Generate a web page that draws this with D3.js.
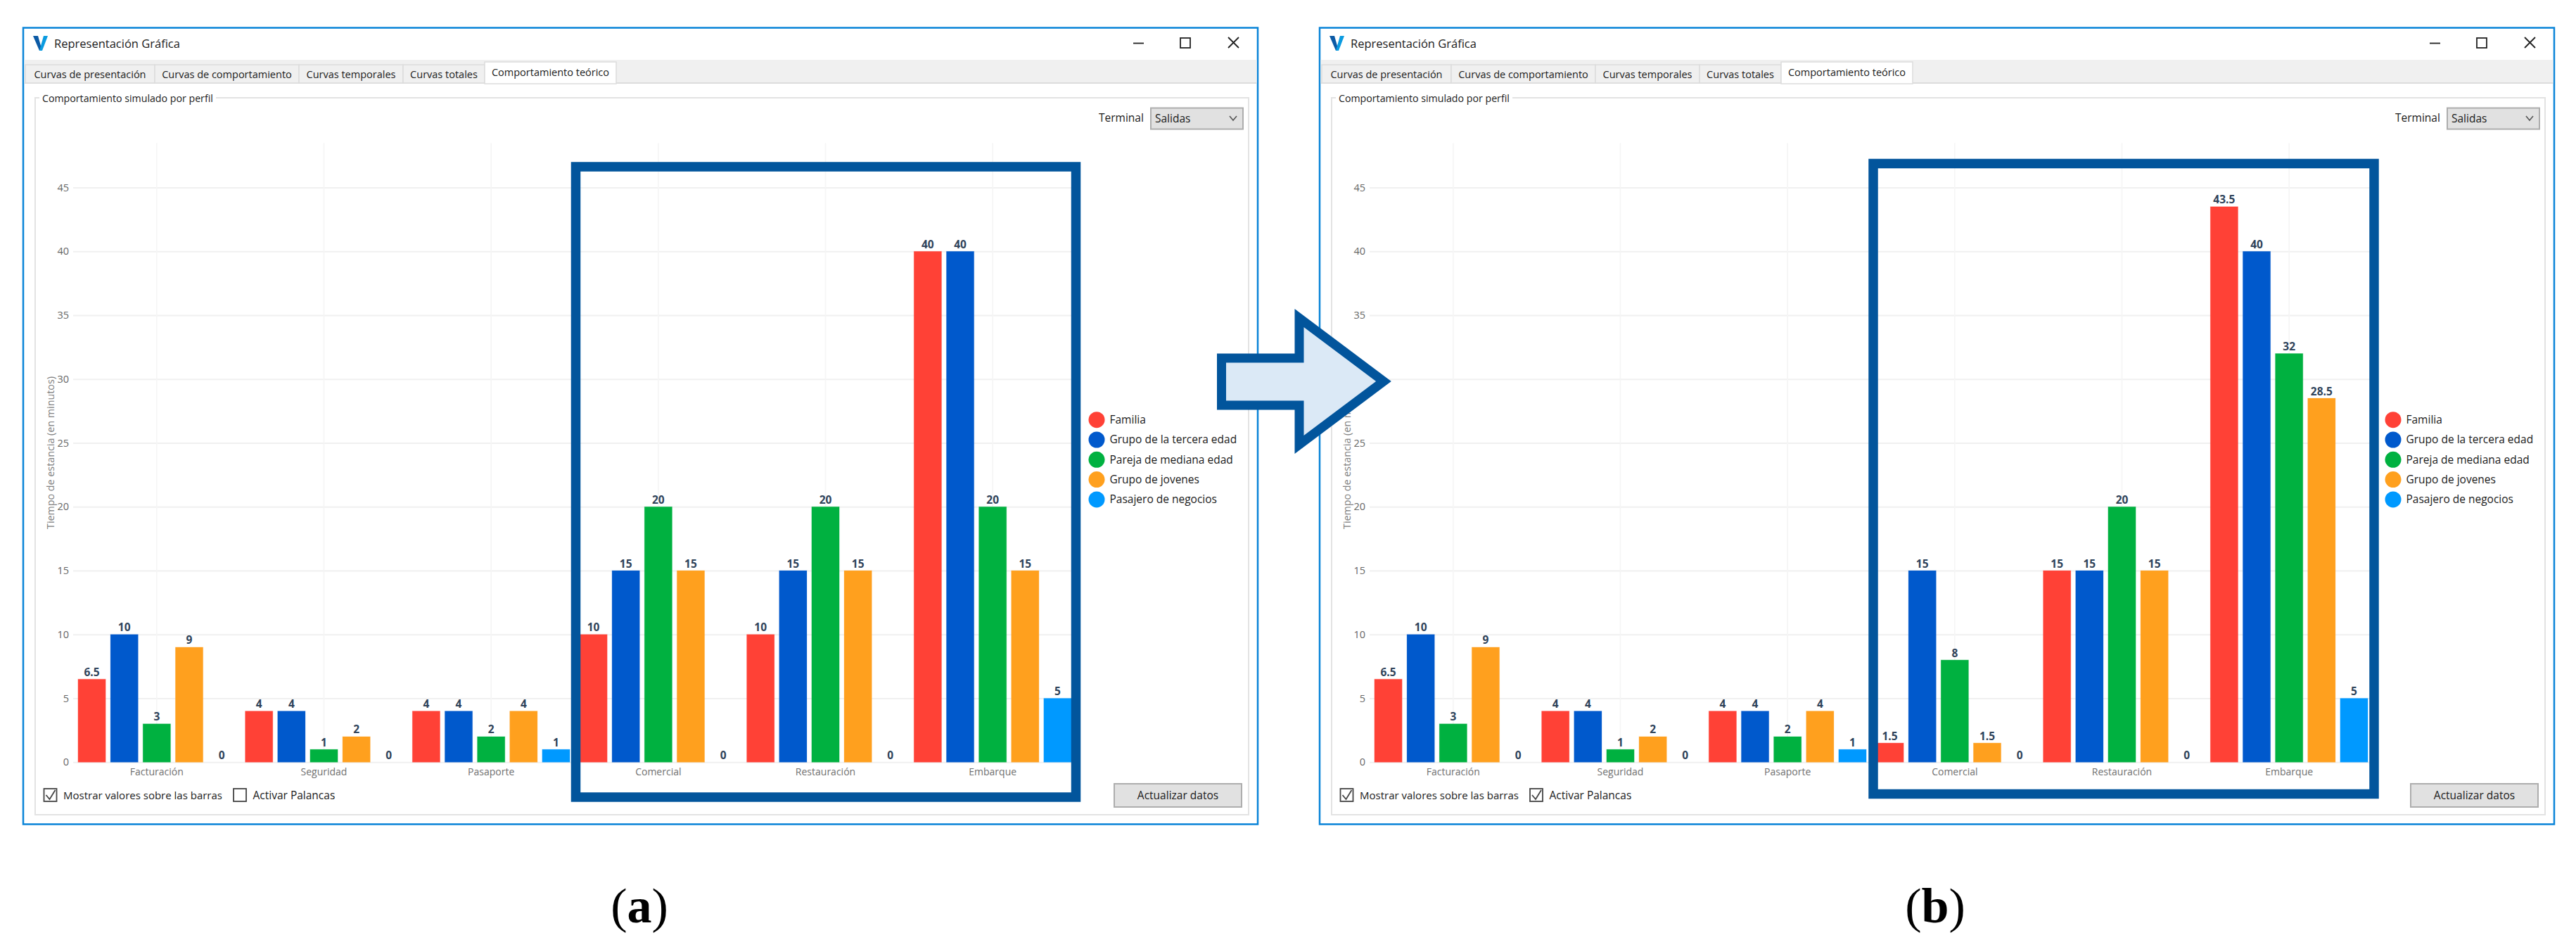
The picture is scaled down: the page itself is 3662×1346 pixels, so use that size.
<!DOCTYPE html>
<html>
<head>
  <meta charset="utf-8">
  <script src="https://d3js.org/d3.v7.min.js"></script>
  <style>
    html, body { margin: 0; padding: 0; background: #fff; }
    svg { display: block; }
    text { font-family: "Open Sans", "Noto Sans", sans-serif; }
  </style>
</head>
<body>
<script type="text/javascript">
var categories = ["Facturación", "Seguridad", "Pasaporte", "Comercial", "Restauración", "Embarque"];
var profiles = ["Familia", "Grupo de la tercera edad", "Pareja de mediana edad", "Grupo de jovenes", "Pasajero de negocios"];
var yTicks = [0, 5, 10, 15, 20, 25, 30, 35, 40, 45];

// panel (a), palancas off
var familiaA = [6.5, 4, 4, 10, 10, 40];
var terceraA = [10, 4, 4, 15, 15, 40];
var parejaA = [3, 1, 2, 20, 20, 20];
var jovenesA = [9, 2, 4, 15, 15, 15];
var negociosA = [0, 0, 1, 0, 0, 5];

// panel (b), palancas on
var familiaB = [6.5, 4, 4, 1.5, 15, 43.5];
var terceraB = [10, 4, 4, 15, 15, 40];
var parejaB = [3, 1, 2, 8, 20, 32];
var jovenesB = [9, 2, 4, 1.5, 15, 28.5];
var negociosB = [0, 0, 1, 0, 0, 5];

var colors = ["#ff4136", "#0059cc", "#00b140", "#ffa01e", "#0099ff"];
var tabNames = ["Curvas de presentación", "Curvas de comportamiento", "Curvas temporales", "Curvas totales", "Comportamiento teórico"];
var tabEdges = [36, 220, 425, 573, 689, 876];
var boxBlue = "#02559c";
var uiText = "#1a1a1a";

var svg = d3.select("body").append("svg").attr("width", 3662).attr("height", 1346);

var x0 = d3.scaleBand().domain(categories).range([104, 1530]);
var x1 = d3.scaleBand().domain(profiles).range([0, x0.bandwidth()]).padding(0.15);
var y = d3.scaleLinear().domain([0, 48.5]).range([1083.3, 203]);

function addText(g, str, px, py, size, fill, anchor) {
  return g.append("text")
    .attr("x", px).attr("y", py)
    .attr("dy", "0.35em")
    .attr("font-size", size)
    .attr("fill", fill || uiText)
    .attr("text-anchor", anchor || "start")
    .text(str);
}

function drawWindow(g) {
  g.append("rect").attr("x", 33).attr("y", 39.5).attr("width", 1755).attr("height", 1132)
    .attr("fill", "#fff").attr("stroke", "#0a84d8").attr("stroke-width", 2.5);

  // app icon
  g.append("path").attr("d", "M47,51 L54,51 L60,72 L56,72 Z").attr("fill", "#0b5aa5");
  g.append("path").attr("d", "M68,51 L62,51 L56,72 L60,72 Z").attr("fill", "#0a9be0");
  addText(g, "Representación Gráfica", 77, 62.5, 16.5);

  // window buttons
  g.append("path").attr("d", "M1611,61.5 H1626").attr("stroke", "#222").attr("stroke-width", 1.8);
  g.append("rect").attr("x", 1678).attr("y", 54).attr("width", 14).attr("height", 14)
    .attr("fill", "none").attr("stroke", "#222").attr("stroke-width", 1.8);
  g.append("path").attr("d", "M1746,53 L1761,68 M1761,53 L1746,68").attr("stroke", "#222").attr("stroke-width", 1.8);

  // tab strip
  g.append("rect").attr("x", 34.5).attr("y", 85).attr("width", 1752).attr("height", 33).attr("fill", "#f0f0f0");
  g.append("path").attr("d", "M34.5,118 H1786.5").attr("stroke", "#dcdcdc").attr("stroke-width", 2);
  tabNames.forEach(function (name, i) {
    var active = i == tabNames.length - 1;
    var top = active ? 88 : 92;
    g.append("rect").attr("x", tabEdges[i]).attr("y", top)
      .attr("width", tabEdges[i + 1] - tabEdges[i]).attr("height", active ? 31 : 26)
      .attr("fill", active ? "#fff" : "#f0f0f0").attr("stroke", "#dcdcdc").attr("stroke-width", 1.5);
    addText(g, name, (tabEdges[i] + tabEdges[i + 1]) / 2, active ? 102.5 : 105.5, 14.5, uiText, "middle");
  });

  // group box
  g.append("rect").attr("x", 50).attr("y", 139).attr("width", 1725).attr("height", 1019)
    .attr("fill", "#fff").attr("stroke", "#e3e3e3").attr("stroke-width", 2);
  g.append("rect").attr("x", 56).attr("y", 130).attr("width", 251).attr("height", 20).attr("fill", "#fff");
  addText(g, "Comportamiento simulado por perfil", 60, 140, 14.2);

  // terminal selector
  addText(g, "Terminal", 1562, 168, 15.5);
  g.append("rect").attr("x", 1636).attr("y", 153.5).attr("width", 131).attr("height", 30)
    .attr("fill", "#e1e1e1").attr("stroke", "#adadad").attr("stroke-width", 2);
  addText(g, "Salidas", 1642, 168.5, 15.5);
  g.append("path").attr("d", "M1748,165 L1753,171 L1758,165").attr("fill", "none")
    .attr("stroke", "#555").attr("stroke-width", 1.6);
}

function drawCheckbox(g, px, checked, str, size) {
  g.append("rect").attr("x", px).attr("y", 1121).attr("width", 18).attr("height", 18)
    .attr("fill", "#fff").attr("stroke", "#444").attr("stroke-width", 1.8);
  if (checked) {
    g.append("path").attr("d", "M" + (px + 3) + ",1130 l5,6 l8,-13").attr("fill", "none")
      .attr("stroke", "#444").attr("stroke-width", 1.8);
  }
  addText(g, str, px + 27.5, 1131, size);
}

function drawChart(g, series) {
  // grid comes from the axes' long ticks
  var yAxis = g.append("g").attr("class", "y-axis").attr("transform", "translate(104,0)")
    .call(d3.axisLeft(y).tickValues(yTicks).tickSize(-1426).tickPadding(6));
  yAxis.select(".domain").remove();
  yAxis.selectAll("line").attr("stroke", "#f0f0f0").attr("stroke-width", 2);
  yAxis.selectAll("text").attr("font-size", 14.5).attr("fill", "#666");

  var xAxis = g.append("g").attr("class", "x-axis").attr("transform", "translate(0,1083.3)")
    .call(d3.axisBottom(x0).tickSize(-880).tickPadding(9));
  xAxis.select(".domain").remove();
  xAxis.selectAll("line").attr("stroke", "#f5f5f5").attr("stroke-width", 1.6);
  xAxis.selectAll("text").attr("font-size", 14).attr("fill", "#707070");

  g.append("text").attr("transform", "translate(71.7,643.5) rotate(-90)")
    .attr("text-anchor", "middle").attr("dy", "0.35em")
    .attr("font-size", 14.5).attr("fill", "#808080")
    .attr("textLength", 217).attr("lengthAdjust", "spacingAndGlyphs")
    .text("Tiempo de estancia (en minutos)");

  profiles.forEach(function (profile, s) {
    var cells = categories.map(function (c, i) { return { cat: c, value: series[s][i] }; });
    var layer = g.append("g");
    layer.selectAll("rect").data(cells).enter().append("rect")
      .attr("x", function (d) { return x0(d.cat) + x1(profile); })
      .attr("y", function (d) { return y(d.value); })
      .attr("width", x1.bandwidth())
      .attr("height", function (d) { return y(0) - y(d.value); })
      .attr("fill", colors[s])
      .attr("stroke", colors[s]).attr("stroke-opacity", 0.25).attr("stroke-width", 1);
    layer.selectAll("text").data(cells).enter().append("text")
      .attr("x", function (d) { return x0(d.cat) + x1(profile) + x1.bandwidth() / 2; })
      .attr("y", function (d) { return y(d.value) - 4.5; })
      .attr("text-anchor", "middle")
      .attr("font-size", 15.5).attr("font-weight", 700).attr("fill", "#2f435a")
      .text(function (d) { return d.value; });
  });

  // legend
  profiles.forEach(function (profile, s) {
    var ly = 596.7 + s * 28.3;
    g.append("circle").attr("cx", 1559).attr("cy", ly).attr("r", 11.5).attr("fill", colors[s]);
    addText(g, profile, 1577.5, ly, 15.5);
  });
}

function drawPanel(dx, series, palancas) {
  var g = svg.append("g").attr("transform", "translate(" + dx + ",0)");
  drawWindow(g);
  drawChart(g, series);
  drawCheckbox(g, 62.5, true, "Mostrar valores sobre las barras", 15);
  drawCheckbox(g, 332, palancas, "Activar Palancas", 15.5);
  g.append("rect").attr("x", 1584).attr("y", 1114).attr("width", 181).attr("height", 33)
    .attr("fill", "#e1e1e1").attr("stroke", "#adadad").attr("stroke-width", 2);
  addText(g, "Actualizar datos", 1674.5, 1131, 15.5, uiText, "middle");
}

drawPanel(0, [familiaA, terceraA, parejaA, jovenesA, negociosA], false);
drawPanel(1843, [familiaB, terceraB, parejaB, jovenesB, negociosB], true);

// highlight boxes
svg.append("rect").attr("x", 818.5).attr("y", 237).attr("width", 711).attr("height", 896)
  .attr("fill", "none").attr("stroke", boxBlue).attr("stroke-width", 13.5);
svg.append("rect").attr("x", 2663).attr("y", 232.5).attr("width", 712).attr("height", 896)
  .attr("fill", "none").attr("stroke", boxBlue).attr("stroke-width", 13.5);

// arrow between the panels
svg.append("path")
  .attr("d", "M1736.5,509 H1847 V452 L1967,542 L1847,632 V576 H1736.5 Z")
  .attr("fill", "#dbe9f6").attr("stroke", boxBlue).attr("stroke-width", 13)
  .attr("stroke-linejoin", "miter");

// captions
function caption(letter, cx) {
  var t = svg.append("text").attr("x", cx).attr("y", 1311).attr("text-anchor", "middle")
    .style("font-family", "'Liberation Serif', serif").attr("font-size", 70).attr("fill", "#000");
  t.append("tspan").text("(");
  t.append("tspan").attr("font-weight", 700).text(letter);
  t.append("tspan").text(")");
}
caption("a", 909);
caption("b", 2751);
</script>
</body>
</html>
